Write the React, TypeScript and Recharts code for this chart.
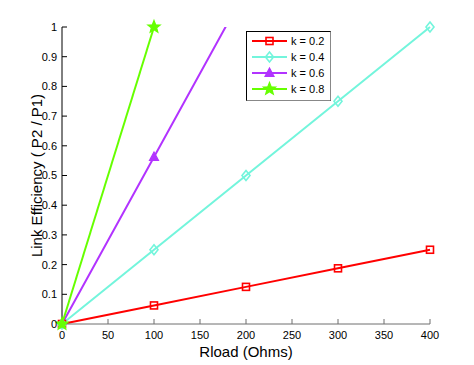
import { LineChart, Line, XAxis, YAxis, Label } from 'recharts'

// Rload (Ohms) and link efficiency for each coupling factor
const rload = [0, 100, 200, 300, 400]
const k02 = [0, 0.0625, 0.125, 0.1875, 0.25]
const k04 = [0, 0.25, 0.5, 0.75, 1.0]
const k06 = [0, 0.5625, 1.125, null, null]
const k08 = [0, 1.0, null, null, null]

const xTicks = [0, 50, 100, 150, 200, 250, 300, 350, 400]
const yTicks = [0, 0.1, 0.2, 0.3, 0.4, 0.5, 0.6, 0.7, 0.8, 0.9, 1]
const seriesNames = ['k = 0.2', 'k = 0.4', 'k = 0.6', 'k = 0.8']

const RED = '#ff0000'
const CYAN = '#73f5dc'
const PURPLE = '#b233ff'
const GREEN = '#66ff00'
const FONT = '"Liberation Sans", Arial, Helvetica, sans-serif'

const data = rload.map((r, i) => ({ r, k02: k02[i], k04: k04[i], k06: k06[i], k08: k08[i] }))

type Shape = (cx: number, cy: number, key?: string) => JSX.Element

const square: Shape = (cx, cy, key) => (
  <rect key={key} x={cx - 3.5} y={cy - 3.5} width={7} height={7} fill="none" stroke={RED} strokeWidth={1.6} />
)
const diamond: Shape = (cx, cy, key) => (
  <polygon key={key} points={`${cx},${cy - 5} ${cx + 4},${cy} ${cx},${cy + 5} ${cx - 4},${cy}`} fill="none" stroke={CYAN} strokeWidth={1.6} />
)
const triangle: Shape = (cx, cy, key) => (
  <polygon key={key} points={`${cx},${cy - 5} ${cx + 4.5},${cy + 3.5} ${cx - 4.5},${cy + 3.5}`} fill={PURPLE} stroke={PURPLE} strokeWidth={1.2} />
)
const star: Shape = (cx, cy, key) => {
  const pts: string[] = []
  for (let i = 0; i < 10; i++) {
    const a = -Math.PI / 2 + (i * Math.PI) / 5
    const rr = i % 2 === 0 ? 6.5 : 2.8
    pts.push(`${cx + rr * Math.cos(a)},${cy + rr * Math.sin(a)}`)
  }
  return <polygon key={key} points={pts.join(' ')} fill={GREEN} stroke={GREEN} strokeWidth={1.2} />
}

const shapes = [square, diamond, triangle, star]
const colors = [RED, CYAN, PURPLE, GREEN]

function dotFor(shape: Shape) {
  return (p: any) => {
    const k = `d-${p.dataKey}-${p.index}`
    if (p.cx == null || p.cy == null || p.value == null) return <g key={k} />
    return shape(p.cx, p.cy, k)
  }
}

function LegendBox() {
  return (
    <div style={{ position: 'absolute', left: 246, top: 31 }}>
      <svg width={85} height={70} style={{ display: 'block' }}>
        <rect x={0.5} y={0.5} width={84} height={69} fill="#fff" stroke="#000" />
        <line x1={84.5} y1={0.5} x2={84.5} y2={69.5} stroke="#888" />
        <line x1={0.5} y1={69.5} x2={84.5} y2={69.5} stroke="#888" />
        {seriesNames.map((name, i) => {
          const y = 10 + i * 16
          return (
            <g key={name}>
              <line x1={6} y1={y} x2={41} y2={y} stroke={colors[i]} strokeWidth={2} />
              {shapes[i](23.5, y)}
              <text x={45} y={y + 4} fontSize={11} fontFamily={FONT} fill="#000">{name}</text>
            </g>
          )
        })}
      </svg>
    </div>
  )
}

export default function App() {
  return (
    <div style={{ position: 'absolute', left: 0, top: 0, width: 474, height: 365, background: '#fff' }}>
      <LineChart
        width={474}
        height={365}
        data={data}
        margin={{ top: 27, right: 44, bottom: 0, left: 0 }}
        style={{ fontFamily: FONT }}
      >
        <XAxis
          dataKey="r"
          type="number"
          domain={[0, 400]}
          ticks={xTicks}
          height={41}
          tickSize={-5}
          tickMargin={12}
          stroke="#6e6e6e"
          tick={{ fill: '#000', fontSize: 11 }}
        >
          <Label value="Rload (Ohms)" position="insideBottom" offset={8} style={{ fontSize: 15, fill: '#000' }} />
        </XAxis>
        <XAxis
          xAxisId="top"
          orientation="top"
          type="number"
          domain={[0, 400]}
          ticks={xTicks}
          height={0}
          tickSize={-5}
          tickFormatter={() => ''}
          stroke="#000"
        />
        <YAxis
          type="number"
          domain={[0, 1]}
          ticks={yTicks}
          width={62}
          tickSize={-5}
          tickMargin={10}
          stroke="#000"
          tick={{ fill: '#000', fontSize: 11 }}
          tickFormatter={(v) => String(v)}
        >
          <Label
            value="Link Efficiency ( P2 / P1)"
            angle={-90}
            position="insideLeft"
            offset={37}
            style={{ textAnchor: 'middle', fontSize: 15, fill: '#000' }}
          />
        </YAxis>
        <YAxis
          yAxisId="right"
          orientation="right"
          type="number"
          domain={[0, 1]}
          ticks={yTicks}
          width={0}
          tickSize={-5}
          tickFormatter={() => ''}
          stroke="#888"
        />
        <YAxis yAxisId="clip" type="number" domain={[0, 1]} allowDataOverflow hide />

        <Line dataKey="k02" stroke={RED} strokeWidth={2} dot={dotFor(square)} activeDot={false} isAnimationActive={false} />
        <Line dataKey="k04" stroke={CYAN} strokeWidth={2} dot={dotFor(diamond)} activeDot={false} isAnimationActive={false} />
        <Line dataKey="k06" yAxisId="clip" stroke={PURPLE} strokeWidth={2} dot={dotFor(triangle)} activeDot={false} isAnimationActive={false} />
        <Line dataKey="k08" stroke={GREEN} strokeWidth={2} dot={dotFor(star)} activeDot={false} isAnimationActive={false} />
      </LineChart>
      <LegendBox />
    </div>
  )
}
